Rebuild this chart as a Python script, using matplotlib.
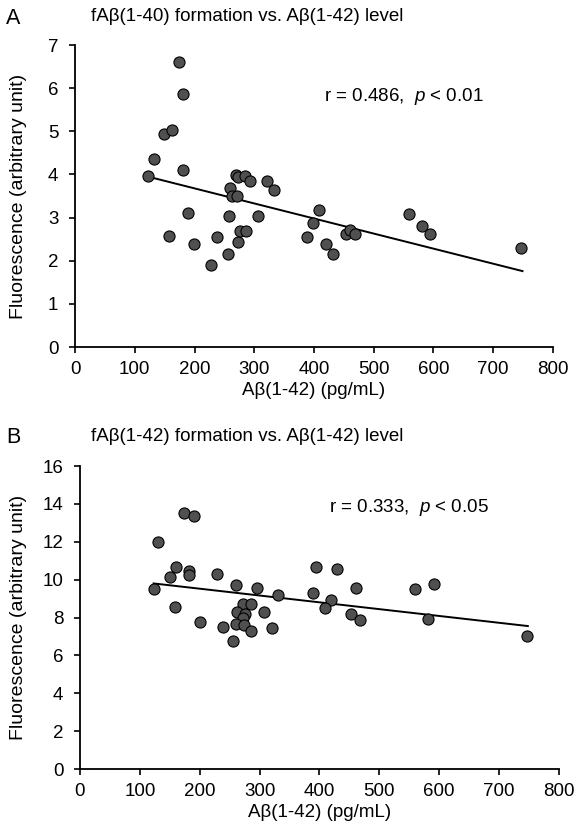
import numpy as np
import matplotlib
matplotlib.use('Agg')
import matplotlib.pyplot as plt

plt.rcParams['font.family'] = ['Liberation Sans', 'DejaVu Sans']
plt.rcParams['mathtext.fontset'] = 'custom'
plt.rcParams['mathtext.rm'] = 'Liberation Sans'
plt.rcParams['mathtext.it'] = 'Liberation Sans:italic'

# Panel A: fAb(1-40) formation vs Ab(1-42) level
a_x = [174, 180.5, 149, 162, 132, 122, 181, 189.5, 158, 199.5, 228, 238, 255.5,
       258, 273, 275.5, 285.5, 260, 262, 271, 270, 272, 284.5, 293, 306.5, 320.5,
       333, 389, 398, 408, 420, 432, 453, 459.5, 468, 559.5, 581, 594, 747]
a_y = [6.61, 5.86, 4.93, 5.02, 4.36, 3.97, 4.10, 3.10, 2.57, 2.38, 1.90, 2.55, 2.16,
       3.03, 2.44, 2.68, 2.68, 3.68, 3.50, 3.50, 3.99, 3.93, 3.97, 3.84, 3.03, 3.86,
       3.65, 2.55, 2.88, 3.17, 2.38, 2.15, 2.63, 2.71, 2.61, 3.09, 2.81, 2.62, 2.29]
a_fit_x = [122, 749]
a_fit_y = [3.95, 1.76]

# Panel B: fAb(1-42) formation vs Ab(1-42) level
b_x = [174.5, 190.5, 131, 161, 150, 181.5, 181.5, 228, 123, 158, 200, 239, 255,
       261, 295, 331, 308, 321.5, 389, 395, 271.5, 286, 263, 275, 273, 260, 274,
       285, 430, 461, 420, 409, 452, 468, 560, 592, 582, 747]
b_y = [13.51, 13.35, 12.01, 10.65, 10.14, 10.45, 10.25, 10.30, 9.49, 8.57, 7.79, 7.50, 6.76,
       9.72, 9.54, 9.19, 8.27, 7.44, 9.31, 10.65, 8.71, 8.71, 8.27, 8.20, 7.97, 7.66, 7.62,
       7.29, 10.57, 9.54, 8.90, 8.52, 8.19, 7.87, 9.52, 9.75, 7.90, 7.04]
b_fit_x = [123, 748]
b_fit_y = [9.80, 7.55]

fig = plt.figure(figsize=(5.78, 8.34), dpi=100)

def panel(rect, xs, ys, fx, fy, ymax, ystep, stat, stat_y, ylab_x):
    ax = fig.add_axes(rect)
    ax.plot(fx, fy, color='black', lw=1.4, zorder=2)
    ax.plot(xs, ys, 'o', ms=8, mfc='#505050', mec='black', mew=0.8, zorder=3)
    ax.set_xlim(0, 800)
    ax.set_ylim(0, ymax)
    ax.set_xticks(np.arange(0, 801, 100))
    ax.set_yticks(np.arange(0, ymax + 1, ystep))
    for s in ['top', 'right']:
        ax.spines[s].set_visible(False)
    for s in ['left', 'bottom']:
        ax.spines[s].set_linewidth(1.3)
    ax.tick_params(direction='out', length=4, width=1.2, labelsize=13.5)
    ax.tick_params(axis='y', pad=8)
    ax.tick_params(axis='x', pad=6)
    ax.set_xlabel('A\u03b2(1-42) (pg/mL)', fontsize=13.5, labelpad=3)
    ax.set_ylabel('Fluorescence (arbitrary unit)', fontsize=14)
    ax.yaxis.set_label_coords(ylab_x, 0.5)
    ax.text(0.52, stat_y, stat, transform=ax.transAxes, fontsize=13.5,
            ha='left', va='center')
    return ax

axA = panel([0.1298, 0.5839, 0.8269, 0.3621], a_x, a_y, a_fit_x, a_fit_y, 7, 1,
            r'r = 0.486,  $p$ < 0.01', 0.83, -0.100)
axB = panel([0.1384, 0.0779, 0.8287, 0.3633], b_x, b_y, b_fit_x, b_fit_y, 16, 2,
            r'r = 0.333,  $p$ < 0.05', 0.862, -0.111)

fig.text(0.010, 0.978, 'A', fontsize=15.5, ha='left', va='center')
fig.text(0.010, 0.475, 'B', fontsize=15.5, ha='left', va='center')
fig.text(0.157, 0.980, 'fA\u03b2(1-40) formation vs. A\u03b2(1-42) level', fontsize=13.5,
         ha='left', va='center')
fig.text(0.157, 0.477, 'fA\u03b2(1-42) formation vs. A\u03b2(1-42) level', fontsize=13.5,
         ha='left', va='center')

plt.savefig('out.png', dpi=100)
